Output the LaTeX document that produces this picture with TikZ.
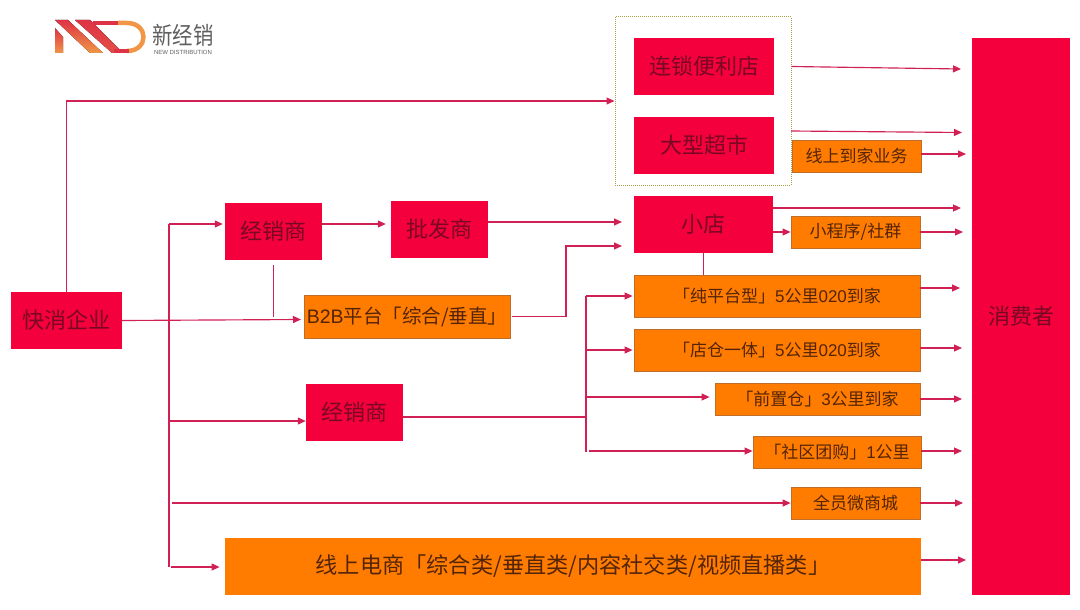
\documentclass[tikz,border=0pt]{standalone}
\usepackage{fontspec}
\setmainfont{Liberation Sans}
\newfontfamily\cjk{Noto Sans CJK SC}
\usepackage{xcolor}
\usetikzlibrary{positioning, arrows.meta}
\definecolor{NDRed}{RGB}{244,0,60}
\definecolor{NDOrange}{RGB}{255,124,0}
\definecolor{NDEdge}{RGB}{190,110,40}
\definecolor{NDLine}{RGB}{208,32,84}
\definecolor{NDInkRed}{RGB}{120,8,36}
\definecolor{NDInkOrange}{RGB}{84,36,8}
\definecolor{NDGray}{RGB}{95,95,95}
\definecolor{NDOlive}{RGB}{170,160,70}
\definecolor{NDLogoRed}{RGB}{222,50,70}
\definecolor{NDLogoAmber}{RGB}{240,150,70}
\tikzset{
  redbox/.style={fill=NDRed, text=NDInkRed, font=\fontsize{22}{24}\selectfont\cjk,
                 inner sep=0pt, align=center},
  orangebox/.style={fill=NDOrange, draw=NDEdge, line width=0.8pt, text=NDInkOrange,
                 font=\fontsize{17}{20}\selectfont\cjk, inner sep=0pt, align=center},
  flowline/.style={NDLine, line width=1.15pt, -{Triangle[length=8pt,width=7pt]}},
  plainline/.style={NDLine, line width=1.15pt},
}
\begin{document}
\begin{tikzpicture}[x=1pt, y=-1pt]
  \useasboundingbox (0,0) rectangle (1080,610);
  % logo
  \fill[top color=NDLogoRed, bottom color=NDLogoAmber] (55,28) -- (63,37) -- (63,53) -- (55,53) -- cycle;
  \fill[top color=NDLogoRed, bottom color=NDLogoAmber] (55,20) -- (68,20) -- (103,53) -- (90,53) -- cycle;
  \fill[top color=NDLogoRed, bottom color=NDLogoRed!70!NDLogoAmber] (75,20) -- (90,20) -- (123,53) -- (112,53) -- cycle;
  \draw[NDLogoRed, line width=4.5pt] (93,23) -- (127,23);
  \draw[NDLogoAmber, line width=4.5pt] (118,23) -- (127,23) .. controls (149,23) and (149,51) .. (127,51);
  \draw[NDLogoRed, line width=4.5pt] (114,51) -- (129,51);
  \node[font=\fontsize{24}{24}\selectfont\cjk, text=NDGray, inner sep=0pt, xscale=0.85] (logotext) at (183,35) {新经销};
  \node[font=\fontsize{6}{6}\selectfont, text=NDGray, inner sep=0pt] (logosub) at (183,52.5) {NEW DISTRIBUTION};
  % boxes
  \node[draw=NDOlive, densely dotted, line width=1pt, minimum width=176pt, minimum height=168pt] (store) at (703,101) {};
  \node[redbox, minimum width=140pt, minimum height=57pt] (chain) at (704,66.5) {连锁便利店};
  \node[redbox, minimum width=140pt, minimum height=57pt] (hyper) at (704,145.5) {大型超市};
  \node[orangebox, minimum width=129pt, minimum height=32pt] (homebiz) at (856.5,156) {线上到家业务};
  \node[redbox, minimum width=139pt, minimum height=57pt] (shop) at (703.5,224.5) {小店};
  \node[orangebox, minimum width=129pt, minimum height=32pt] (miniapp) at (855.5,232) {小程序/社群};
  \node[orangebox, minimum width=286pt, minimum height=42pt] (pure) at (777,296) {{「纯平台型」}{\rmfamily 5}公里{\rmfamily 020}到家};
  \node[orangebox, minimum width=286pt, minimum height=42pt] (onebody) at (777,350) {{「店仓一体」}{\rmfamily 5}公里{\rmfamily 020}到家};
  \node[orangebox, minimum width=205pt, minimum height=32pt] (front) at (817.5,399) {{「前置仓」}{\rmfamily 3}公里到家};
  \node[orangebox, minimum width=168pt, minimum height=32pt] (group) at (837,452) {{「社区团购」}{\rmfamily 1}公里};
  \node[orangebox, minimum width=129pt, minimum height=32pt] (wemall) at (855.5,503) {全员微商城};
  \node[orangebox, draw=none, minimum width=696pt, minimum height=57pt, font=\fontsize{22.2}{24}\selectfont\cjk] (online) at (573,566.5) {线上电商「综合类/垂直类/内容社交类/视频直播类」};
  \node[redbox, minimum width=98pt, minimum height=557pt] (consumer) at (1021,316.5) {消费者};
  \node[redbox, minimum width=111pt, minimum height=57pt] (fmcg) at (66.5,320.5) {快消企业};
  \node[redbox, minimum width=97pt, minimum height=57pt] (dealerA) at (273.5,231.5) {经销商};
  \node[redbox, minimum width=97pt, minimum height=57pt] (whole) at (439.5,229.5) {批发商};
  \node[orangebox, minimum width=206pt, minimum height=43pt, font=\fontsize{19.5}{22}\selectfont\cjk] (btob) at (407,316.5) {{\rmfamily B2B}平台「综合/垂直」};
  \node[redbox, minimum width=97pt, minimum height=57pt] (dealerB) at (354.5,412.5) {经销商};
  % free ends of the connectors
  \coordinate (trunkA) at (169,224);
  \coordinate (trunkB) at (169,421);
  \coordinate (trunkC) at (172,503);
  \coordinate (trunkD) at (169,567);
  \coordinate (trunkE) at (171,567);
  \coordinate (hubA) at (586,296);
  \coordinate (hubB) at (586,350);
  \coordinate (hubC) at (586,397);
  \coordinate (hubD) at (586,452);
  \coordinate (hubE) at (589,451);
  \coordinate (hubIn) at (586,417);
  \coordinate (turn) at (566,246);
  \coordinate (btobIn) at (301,319.5);
  \coordinate (wholeOut) at (622,222);
  \coordinate (turnOut) at (622,246);
  \coordinate (storeB) at (791,131);
  \coordinate (outA) at (961,69);
  \coordinate (outB) at (962,132.5);
  \coordinate (outC) at (966,154);
  \coordinate (outD) at (961,208);
  \coordinate (outE) at (963,232);
  \coordinate (outF) at (960,288);
  \coordinate (outG) at (962,348);
  \coordinate (outH) at (962,399);
  \coordinate (outI) at (962,451);
  \coordinate (outJ) at (963,503);
  \coordinate (outK) at (966,560);
  % connectors on the left
  \draw[flowline] (fmcg.north) |- (store.west);
  \draw[flowline] (fmcg.east) -- (btobIn);
  \draw[plainline] (trunkA) -- (trunkD);
  \draw[flowline] (trunkA) -- ([xshift=-2pt]dealerA.west |- trunkA);
  \draw[flowline] (trunkB) -- (dealerB.west |- trunkB);
  \draw[flowline] (trunkC) -- (wemall.west |- trunkC);
  \draw[flowline] (trunkE) -- ([xshift=-5pt]online.west |- trunkE);
  \draw[flowline] (dealerA.east |- trunkA) -- ([xshift=-5pt]whole.west |- trunkA);
  \draw[flowline] (whole.east |- wholeOut) -- (wholeOut);
  \draw[plainline] ([yshift=-5pt]dealerA.south) -- (dealerA.south |- btob.west);
  \draw[flowline] ([xshift=2pt]btob.east) -| (turn) -- (turnOut);
  % connectors in the middle
  \draw[plainline] (dealerB.east |- hubIn) -- (hubIn);
  \draw[plainline] (hubA) -- (hubD);
  \draw[flowline] (hubA) -- ([xshift=-1pt]pure.west);
  \draw[flowline] (hubB) -- ([xshift=-1pt]onebody.west);
  \draw[flowline] (hubC) -- ([xshift=-5pt]front.west |- hubC);
  \draw[flowline] (hubE) -- (group.west |- hubE);
  \draw[plainline] (shop.south) -- (pure.north -| shop.south);
  \draw[flowline] (shop.east |- miniapp.west) -- (miniapp.west);
  % connectors on the right
  \draw[flowline] (store.east |- chain.east) -- (outA);
  \draw[flowline] (storeB) -- (outB);
  \foreach \src/\tgt in {homebiz/outC, shop/outD, miniapp/outE,
                         pure/outF, onebody/outG, front/outH, group/outI, wemall/outJ, online/outK} {
    \draw[flowline] (\src.east |- \tgt) -- (\tgt);
  }
\end{tikzpicture}
\end{document}
